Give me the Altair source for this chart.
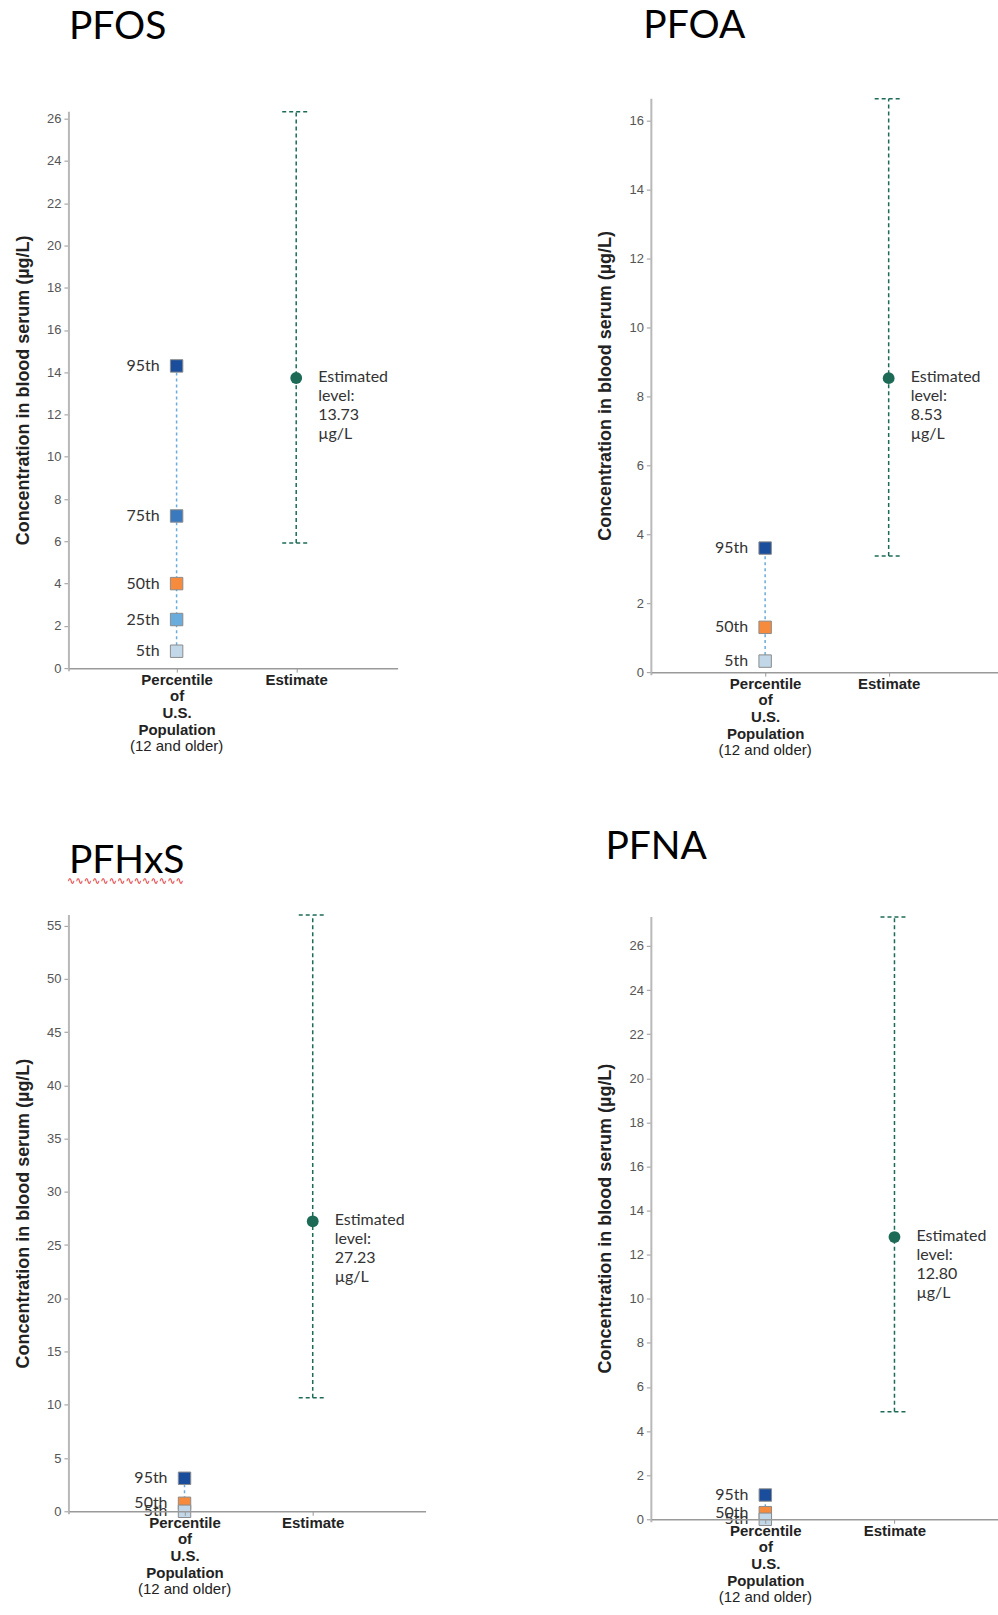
import altair as alt
import pandas as pd

# ---------------- data ----------------
categories = ["Percentile", "Estimate"]

pfos_pct = ["95th", "75th", "50th", "25th", "5th"]
pfos_val = [14.3, 7.2, 4.0, 2.3, 0.8]
pfos_est = 13.73
pfos_lo = 5.92
pfos_hi = 26.33
pfos_ticks = [0, 2, 4, 6, 8, 10, 12, 14, 16, 18, 20, 22, 24, 26]

pfoa_pct = ["95th", "50th", "5th"]
pfoa_val = [3.6, 1.3, 0.32]
pfoa_est = 8.53
pfoa_lo = 3.37
pfoa_hi = 16.64
pfoa_ticks = [0, 2, 4, 6, 8, 10, 12, 14, 16]

pfhxs_pct = ["95th", "50th", "5th"]
pfhxs_val = [3.1, 0.75, 0.0]
pfhxs_est = 27.23
pfhxs_lo = 10.65
pfhxs_hi = 56.0
pfhxs_ticks = [0, 5, 10, 15, 20, 25, 30, 35, 40, 45, 50, 55]

pfna_pct = ["95th", "50th", "5th"]
pfna_val = [1.1, 0.3, 0.0]
pfna_est = 12.80
pfna_lo = 4.88
pfna_hi = 27.32
pfna_ticks = [0, 2, 4, 6, 8, 10, 12, 14, 16, 18, 20, 22, 24, 26]

pct_order = ["95th", "75th", "50th", "25th", "5th"]
pct_colors = ["#1a4d9b", "#3a79bd", "#f68b3e", "#6aacdb", "#c2d7e7"]

GREEN = "#1d6b57"
Y_TITLE = "Concentration in blood serum (µg/L)"
LABEL_FONT = "Lato"
AXIS_FONT = "Liberation Sans"


def panel(name, pcts, vals, est, lo, hi, ticks, W, H, pad, align,
          t_offset, t_dx, top_gap=0, squiggle=False):
    pdf = pd.DataFrame({"cat": ["Percentile"] * len(pcts), "pct": pcts, "value": vals})
    edf = pd.DataFrame({
        "cat": ["Estimate"], "est": [est], "lo": [lo], "hi": [hi],
        "label": [f"Estimated\nlevel:\n{est:.2f}\nµg/L"],
    })
    capdf = pd.DataFrame({"cat": ["Estimate", "Estimate"], "cap": [lo, hi]})
    subdf = pd.DataFrame({"cat": ["Percentile"], "sub": ["(12 and older)"]})
    axdf = pd.DataFrame({"a0": [0.0], "a1": [hi]})

    # plot area is H tall; the axis line stops top_gap pixels below its top
    dmax = hi * H / (H - top_gap)
    xs = alt.Scale(type="point", domain=categories, padding=pad, align=align)
    ys = alt.Scale(domain=[0, dmax], nice=False, zero=True)
    xaxis = alt.Axis(
        title=None, labelAngle=0,
        labelExpr="datum.value == 'Percentile' ? ['Percentile','of','U.S.','Population'] : datum.value",
        labelFont=AXIS_FONT, labelFontSize=15, labelFontWeight="bold", labelColor="#222",
        labelLineHeight=16.7, labelPadding=0, tickSize=4, tickColor="#999",
        domainColor="#9a9a9a", domainWidth=1.5, zindex=1,
    )
    yaxis = alt.Axis(
        title=Y_TITLE, values=ticks, grid=False, domain=False,
        titleY=top_gap + (H - top_gap) / 2,
        titleFont=AXIS_FONT, titleFontSize=18, titleFontWeight="bold", titleColor="#222",
        titlePadding=14, labelFont=AXIS_FONT, labelFontSize=13, labelColor="#555",
        labelPadding=3, tickSize=5, tickColor="#999",
    )
    X = alt.X("cat:N", scale=xs, axis=xaxis)

    axis_line = alt.Chart(axdf).mark_rule(color="#b8b8b8", strokeWidth=2, yOffset=3).encode(
        x=alt.value(0), y=alt.Y("a0:Q", scale=ys, axis=yaxis), y2="a1:Q")
    pct_rule = alt.Chart(pdf).mark_rule(color="#6aacdb", strokeDash=[3, 3], strokeWidth=1.5).encode(
        x=X, y=alt.Y("min(value):Q", scale=ys, axis=yaxis), y2="max(value):Q")
    est_rule = alt.Chart(edf).mark_rule(color=GREEN, strokeDash=[4, 3], strokeWidth=1.5).encode(
        x=X, y=alt.Y("lo:Q", scale=ys, axis=yaxis), y2="hi:Q")
    caps = alt.Chart(capdf).mark_rule(color=GREEN, strokeDash=[4, 3], strokeWidth=1.5,
                                      xOffset=-14, x2Offset=14).encode(
        x=X, x2="cat:N", y=alt.Y("cap:Q", scale=ys, axis=yaxis))
    squares = alt.Chart(pdf).mark_square(size=155, filled=True, opacity=1, stroke="#8c8c8c",
                                         strokeWidth=1).encode(
        x=X, y=alt.Y("value:Q", scale=ys, axis=yaxis),
        color=alt.Color("pct:N", scale=alt.Scale(domain=pct_order, range=pct_colors), legend=None))
    pct_text = alt.Chart(pdf).mark_text(align="right", baseline="middle", dx=-17, fontSize=16,
                                        font=LABEL_FONT, color="#333").encode(
        x=X, y=alt.Y("value:Q", scale=ys, axis=yaxis), text="pct:N")
    dot = alt.Chart(edf).mark_circle(size=140, color=GREEN, opacity=1).encode(
        x=X, y=alt.Y("est:Q", scale=ys, axis=yaxis))
    est_text = alt.Chart(edf).mark_text(align="left", baseline="top", dx=22, dy=-9, fontSize=16,
                                        lineBreak="\n", lineHeight=19, font=LABEL_FONT,
                                        color="#333").encode(
        x=X, y=alt.Y("est:Q", scale=ys, axis=yaxis), text="label:N")
    sub_text = alt.Chart(subdf).mark_text(align="center", baseline="middle", fontSize=15,
                                          font=AXIS_FONT, color="#222").encode(
        x=X, y=alt.value(H + 78), text="sub:N")

    layers = [axis_line, pct_rule, est_rule, caps, squares, pct_text, dot, est_text, sub_text]
    if squiggle:
        sqdf = pd.DataFrame({"s": ["∿" * 14]})
        layers.append(alt.Chart(sqdf).mark_text(align="left", baseline="middle", fontSize=10,
                                                font="DejaVu Sans", color="#e0201b").encode(
            x=alt.value(-2), y=alt.value(-34), text="s:N"))

    return alt.layer(*layers).properties(
        width=W, height=H,
        title=alt.TitleParams(name, anchor="start", frame="group", offset=t_offset, dx=t_dx,
                              font=LABEL_FONT, fontSize=39, fontWeight="normal", color="#000",
                              baseline="alphabetic"),
    )


p1 = panel("PFOS", pfos_pct, pfos_val, pfos_est, pfos_lo, pfos_hi, pfos_ticks,
           W=329, H=570, pad=0.874, align=0.515, t_offset=21, t_dx=0, top_gap=13)
p2 = panel("PFOA", pfoa_pct, pfoa_val, pfoa_est, pfoa_lo, pfoa_hi, pfoa_ticks,
           W=347, H=574, pad=0.903, align=0.51, t_offset=21, t_dx=-8)
p3 = panel("PFHxS", pfhxs_pct, pfhxs_val, pfhxs_est, pfhxs_lo, pfhxs_hi, pfhxs_ticks,
           W=357, H=597, pad=0.891, align=0.506, t_offset=-36, t_dx=0, squiggle=True)
p4 = panel("PFNA", pfna_pct, pfna_val, pfna_est, pfna_lo, pfna_hi, pfna_ticks,
           W=347, H=603, pad=0.842, align=0.524, t_offset=18, t_dx=-46)

col1 = alt.vconcat(p1, p3, spacing=88)
col2 = alt.vconcat(p2, p4, spacing=70)

chart = alt.hconcat(col1, col2, spacing=171).properties(
    padding={"left": 14, "top": 6, "right": 0, "bottom": 0},
    background="white",
).configure_view(strokeWidth=0)

chart.save("out.html", embed_options={"renderer": "svg", "actions": False})
